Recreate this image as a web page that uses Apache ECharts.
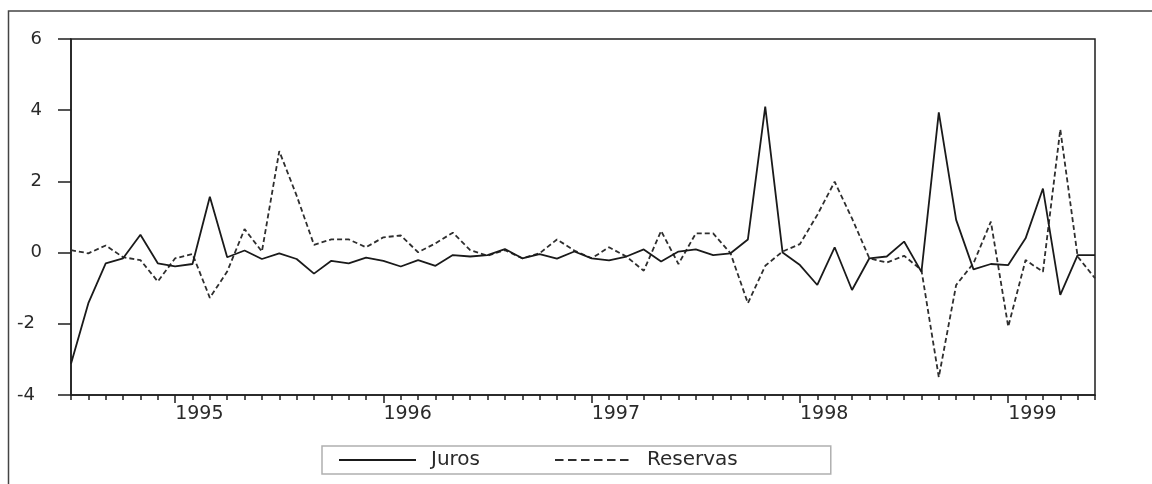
<!DOCTYPE html>
<html>
<head>
<meta charset="utf-8">
<script src="https://cdn.jsdelivr.net/npm/echarts@6/dist/echarts.min.js"></script>
<style>
html,body{margin:0;padding:0;background:#fff;}
#chart{width:1152px;height:484px;}
</style>
</head>
<body>
<div id="chart"></div>
<script>
// Monthly observations, 1994M07 .. 1999M06
var categories = [
  "1994M07","1994M08","1994M09","1994M10","1994M11","1994M12",
  "1995M01","1995M02","1995M03","1995M04","1995M05","1995M06","1995M07","1995M08","1995M09","1995M10","1995M11","1995M12",
  "1996M01","1996M02","1996M03","1996M04","1996M05","1996M06","1996M07","1996M08","1996M09","1996M10","1996M11","1996M12",
  "1997M01","1997M02","1997M03","1997M04","1997M05","1997M06","1997M07","1997M08","1997M09","1997M10","1997M11","1997M12",
  "1998M01","1998M02","1998M03","1998M04","1998M05","1998M06","1998M07","1998M08","1998M09","1998M10","1998M11","1998M12",
  "1999M01","1999M02","1999M03","1999M04","1999M05","1999M06"
];
var juros = [
  -3.12, -1.42, -0.30, -0.16, 0.50, -0.30,
  -0.39, -0.32, 1.57, -0.13, 0.06, -0.18, -0.02, -0.18, -0.59, -0.23, -0.30, -0.14,
  -0.23, -0.39, -0.21, -0.37, -0.07, -0.11, -0.07, 0.10, -0.16, -0.04, -0.17, 0.03,
  -0.16, -0.22, -0.11, 0.09, -0.25, 0.03, 0.09, -0.07, -0.02, 0.37, 4.10, 0.00,
  -0.35, -0.91, 0.15, -1.05, -0.16, -0.11, 0.31, -0.54, 3.94, 0.92, -0.47, -0.32,
  -0.35, 0.40, 1.80, -1.19, -0.07, -0.07
];
var reservas = [
  0.07, -0.02, 0.20, -0.13, -0.21, -0.81,
  -0.16, -0.04, -1.27, -0.53, 0.66, 0.03, 2.85, 1.60, 0.22, 0.37, 0.37, 0.15,
  0.43, 0.48, 0.01, 0.26, 0.56, 0.07, -0.09, 0.07, -0.16, -0.02, 0.37, 0.06,
  -0.16, 0.15, -0.11, -0.51, 0.61, -0.32, 0.54, 0.54, -0.02, -1.42, -0.37, 0.03,
  0.24, 1.06, 1.99, 0.96, -0.16, -0.28, -0.09, -0.49, -3.50, -0.91, -0.30, 0.87,
  -2.08, -0.21, -0.54, 3.46, -0.11, -0.72
];
var yTicks = { min: -4, max: 6, interval: 2 };
var seriesNames = ["Juros", "Reservas"];

var FONT = "DejaVu Sans";
var INK = "#1e1e1e";

function isJanuary(idx) { return /M01$/.test(categories[idx]); }

var chart = echarts.init(document.getElementById('chart'), null, { renderer: 'canvas' });
chart.setOption({
  animation: false,
  backgroundColor: '#ffffff',
  graphic: [{
    type: 'rect',
    shape: { x: 8.5, y: 11, width: 1300, height: 700 },
    style: { fill: 'none', stroke: '#444', lineWidth: 1.5 },
    silent: true
  }],
  grid: {
    left: 71, top: 39, right: 57, bottom: 89,
    show: true, borderColor: INK, borderWidth: 1.5, backgroundColor: 'transparent'
  },
  legend: {
    left: 322, top: 446,
    orient: 'horizontal',
    padding: [4, 93, 4, 16],
    itemWidth: 77, itemHeight: 14, itemGap: 74,
    borderColor: '#b0b0b0', borderWidth: 1.5, borderRadius: 0,
    backgroundColor: '#fff',
    itemStyle: { opacity: 0 },
    textStyle: { fontFamily: FONT, fontSize: 20, color: '#2a2a2a', padding: [0, 0, 0, 10] },
    data: [
      { name: seriesNames[0], textStyle: { width: 57 } },
      { name: seriesNames[1], textStyle: { width: 97 }, lineStyle: { type: [8.5, 4.5] } }
    ]
  },
  xAxis: [{
    type: 'category',
    data: categories,
    boundaryGap: false,
    axisLine: { show: true, onZero: false, lineStyle: { color: INK, width: 1.5 } },
    axisTick: { show: true, interval: 0, length: 5, lineStyle: { color: INK, width: 1.5 } },
    axisLabel: { show: false },
    splitLine: { show: false }
  }, {
    type: 'category',
    data: categories,
    boundaryGap: false,
    position: 'bottom',
    axisLine: { show: false, onZero: false },
    axisTick: { show: true, interval: function (i) { return isJanuary(i); }, length: 8, lineStyle: { color: INK, width: 1.5 } },
    axisLabel: {
      show: true,
      interval: function (i) { return isJanuary(i); },
      formatter: function (v) { return v.slice(0, 4); },
      align: 'left', margin: 10,
      fontFamily: FONT, fontSize: 19, color: '#2a2a2a'
    },
    splitLine: { show: false }
  }],
  yAxis: {
    type: 'value',
    min: yTicks.min, max: yTicks.max, interval: yTicks.interval,
    axisLine: { show: true, onZero: false, lineStyle: { color: INK, width: 1.5 } },
    axisTick: { show: true, length: 13, lineStyle: { color: INK, width: 1.5 } },
    splitLine: { show: false },
    axisLabel: {
      margin: 29,
      fontFamily: FONT, fontSize: 18, color: '#2a2a2a',
      formatter: function (v) { return v < 0 ? '{n|' + v + '}' : String(v); },
      rich: { n: { fontFamily: FONT, fontSize: 18, color: '#2a2a2a', padding: [0, 7, 0, 0] } }
    }
  },
  series: [{
    name: seriesNames[0],
    type: 'line',
    data: juros,
    symbol: 'none',
    lineStyle: { color: '#1a1a1a', width: 1.8, type: 'solid' },
    itemStyle: { color: '#1a1a1a' },
    z: 3
  }, {
    name: seriesNames[1],
    type: 'line',
    data: reservas,
    symbol: 'none',
    lineStyle: { color: '#2e2e2e', width: 1.8, type: [5, 3] },
    itemStyle: { color: '#2e2e2e' },
    z: 2
  }]
});
</script>
</body>
</html>
